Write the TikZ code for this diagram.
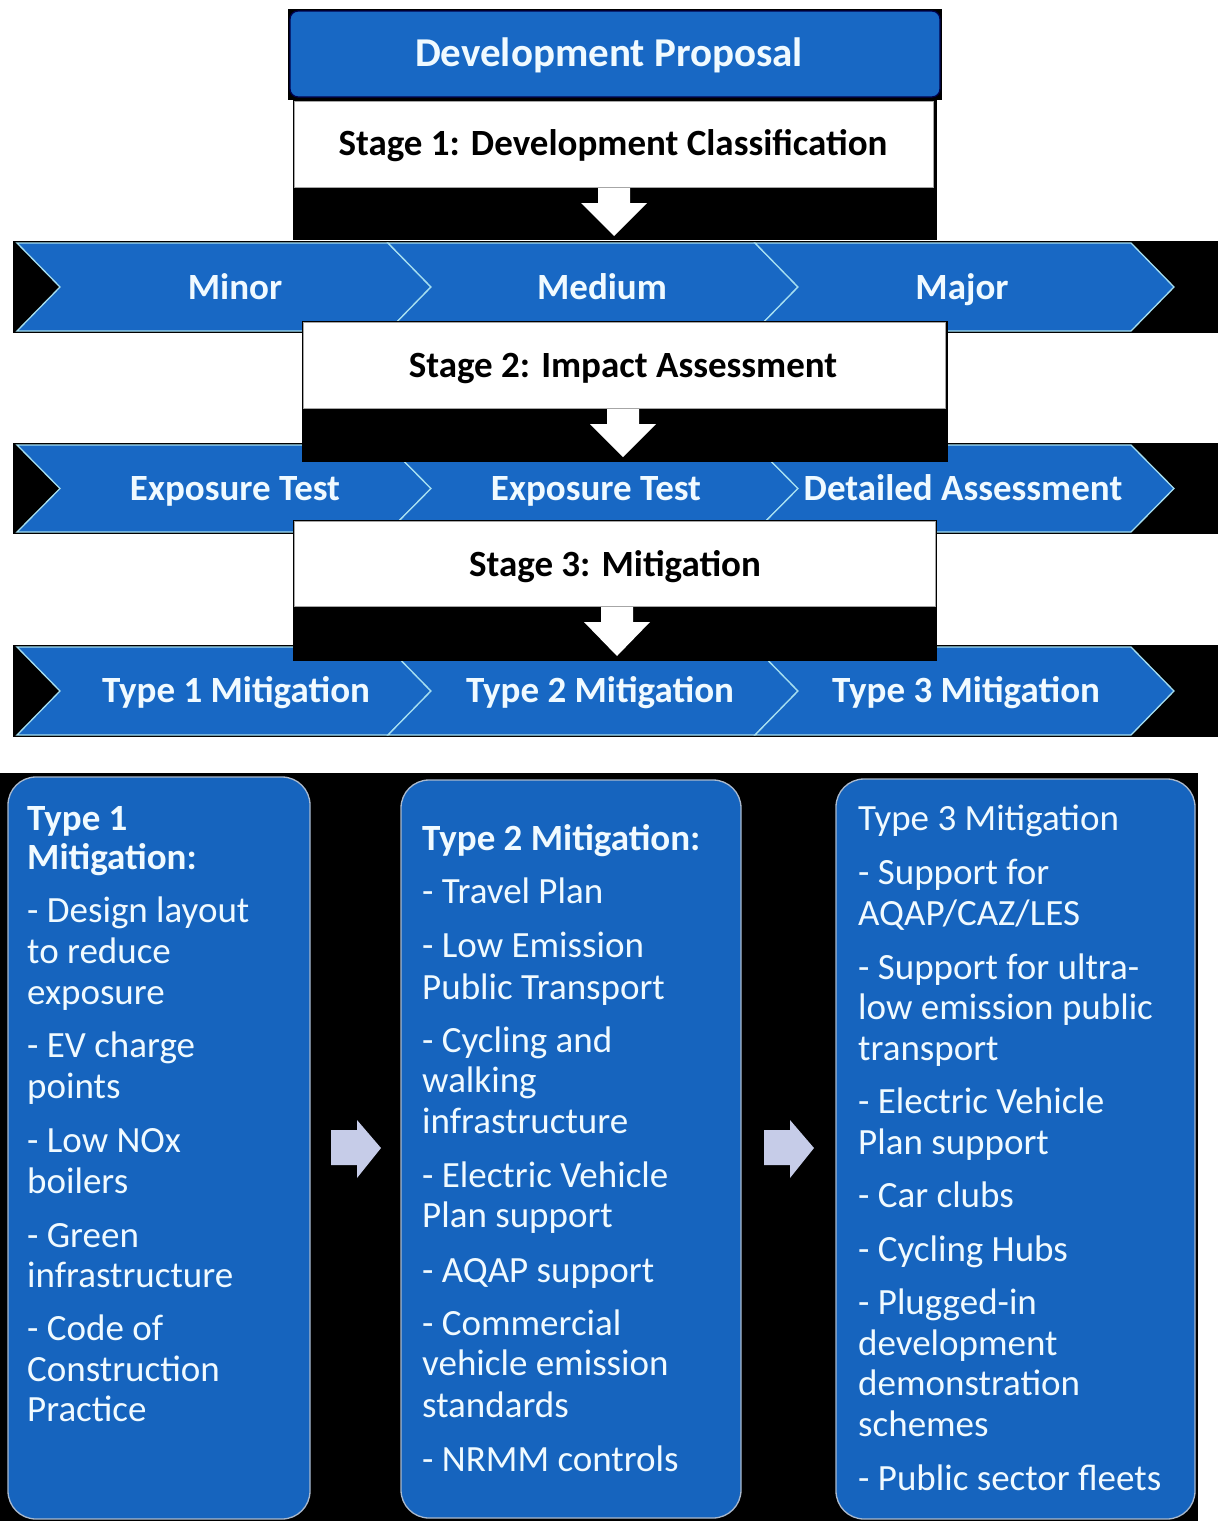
\documentclass[tikz,border=0pt]{standalone}
\usepackage{fontspec}
\setmainfont{Carlito}
\definecolor{cblue}{RGB}{24,104,196}
\definecolor{cedge}{RGB}{165,222,240}
\definecolor{bblue}{RGB}{22,100,190}
\definecolor{garrow}{RGB}{198,204,232}
\definecolor{wtext}{RGB}{240,250,255}
\definecolor{bxedge}{RGB}{170,185,205}
\begin{document}
\begin{tikzpicture}[x=1pt,y=-1pt,
  chev/.style={fill=cblue, draw=cedge, line width=1.3pt, line join=miter},
  ctext/.style={text=wtext, font=\fontsize{37}{40}\selectfont\bfseries, anchor=base, inner sep=0pt},
  stext/.style={text=black, font=\fontsize{37}{40}\selectfont\bfseries, anchor=base, inner sep=0pt},
  btext/.style={text=wtext, font=\fontsize{37}{40}\selectfont, anchor=base west, inner sep=0pt},
  wbox/.style={fill=white, draw=gray!70, line width=1pt},
  mbox/.style={fill=bblue, draw=bxedge, line width=1.3pt, rounded corners=28pt},
  warrow/.style={fill=white},
  garrowst/.style={fill=garrow}]
\useasboundingbox (0,0) rectangle (1218,1521);
\fill[white] (0,0) rectangle (1218,1521);

% ---------- chevron rows ----------
\foreach \yt/\yb in {243/331, 445/532, 647/735} {
  \pgfmathsetmacro\ym{(\yt+\yb)/2}
  \fill[black] (13,{\yt-2}) rectangle (1218,{\yb+2});
  \foreach \xa/\xb in {17/388, 388/755, 755/1131} {
    \filldraw[chev] (\xa,\yt) -- (\xb,\yt) -- ({\xb+43},\ym) -- (\xb,\yb) -- (\xa,\yb) -- ({\xa+43},\ym) -- cycle;
  }
}
\node[ctext] (minor) at (235,299) {Minor};
\node[ctext] (medium) at (602,299) {Medium};
\node[ctext] (major) at (962,299) {Major};
\node[ctext] (exp1) at (235,500) {Exposure Test};
\node[ctext] (exp2) at (596,500) {Exposure Test};
\node[ctext] (detail) at (963,500) {Detailed Assessment};
\node[ctext] (t1m) at (236,702) {Type 1 Mitigation};
\node[ctext] (t2m) at (600,702) {Type 2 Mitigation};
\node[ctext] (t3m) at (966,702) {Type 3 Mitigation};

% ---------- header ----------
\fill[black] (288,9) rectangle (942,100);
\filldraw[fill=cblue, draw=black!70!blue, line width=1.3pt, rounded corners=8pt] (290,11) rectangle (940,97);
\node[ctext, font=\fontsize{41}{44}\selectfont\bfseries] (dev) at (609,66) {Development Proposal};

% ---------- stage 1 ----------
\fill[black] (293,100) rectangle (937,240);
\filldraw[wbox] (294,101) rectangle (933,187);
\node[stext] (st1) at (613,155) {Stage 1: Development Classification};
\fill[warrow] (598,188) -- (630,188) -- (630,203) -- (647,203) -- (614,236) -- (581,203) -- (598,203) -- cycle;

% ---------- stage 2 ----------
\fill[black] (302,321) rectangle (948,462);
\filldraw[wbox] (303,322) rectangle (945,408);
\node[stext] (st2) at (623,377) {Stage 2: Impact Assessment};
\fill[warrow] (607,409) -- (639,409) -- (639,424) -- (656,424) -- (623,457) -- (590,424) -- (607,424) -- cycle;

% ---------- stage 3 ----------
\fill[black] (293,520) rectangle (937,661);
\filldraw[wbox] (294,521) rectangle (935,606);
\node[stext] (st3) at (615,576) {Stage 3: Mitigation};
\fill[warrow] (601,607) -- (633,607) -- (633,622) -- (650,622) -- (617,656) -- (584,622) -- (601,622) -- cycle;

% ---------- bottom panel ----------
\fill[black] (0,773) rectangle (1198,1521);
\filldraw[mbox] (8,777) rectangle (310,1519);
\filldraw[mbox] (401,780) rectangle (741,1518);
\filldraw[mbox] (836,779) rectangle (1195,1519);

\fill[garrowst] (331,1130) -- (357,1130) -- (357,1120) -- (381,1148) -- (357,1178) -- (357,1165) -- (331,1165) -- cycle;
\fill[garrowst] (764,1130) -- (790,1130) -- (790,1120) -- (814,1148) -- (790,1178) -- (790,1165) -- (764,1165) -- cycle;

\foreach \y/\t [count=\i] in {830/{\bfseries Type 1}, 869/{\bfseries Mitigation:}, 922/{- Design layout}, 963/{to reduce}, 1004/{exposure}, 1057/{- EV charge}, 1098/{points}, 1152/{- Low NOx}, 1193/{boilers}, 1247/{- Green}, 1287/{infrastructure}, 1340/{- Code of}, 1381/{Construction}, 1421/{Practice}}
  \node[btext] (a\i) at (27,\y) {\t};

\foreach \y/\t [count=\i] in {850/{\bfseries Type 2 Mitigation:}, 903/{- Travel Plan}, 957/{- Low Emission}, 999/{Public Transport}, 1052/{- Cycling and}, 1092/{walking}, 1133/{infrastructure}, 1187/{- Electric Vehicle}, 1227/{Plan support}, 1282/{- AQAP support}, 1335/{- Commercial}, 1375/{vehicle emission}, 1417/{standards}, 1471/{- NRMM controls}}
  \node[btext] (b\i) at (422,\y) {\t};

\foreach \y/\t [count=\i] in {830/{Type 3 Mitigation}, 884/{- Support for}, 925/{AQAP/CAZ/LES}, 979/{- Support for ultra-}, 1019/{low emission public}, 1060/{transport}, 1113/{- Electric Vehicle}, 1154/{Plan support}, 1207/{- Car clubs}, 1261/{- Cycling Hubs}, 1314/{- Plugged-in}, 1355/{development}, 1395/{demonstration}, 1436/{schemes}, 1490/{- Public sector fleets}}
  \node[btext] (c\i) at (858,\y) {\t};
\end{tikzpicture}
\end{document}
